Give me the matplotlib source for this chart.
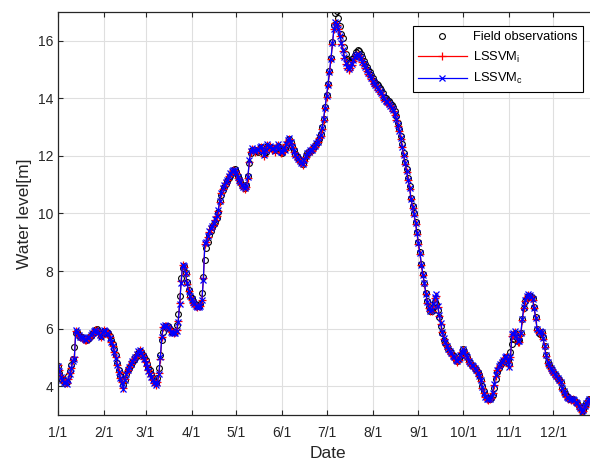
import numpy as np
import matplotlib
matplotlib.use("Agg")
import matplotlib.pyplot as plt

plt.rcParams['font.family'] = ['Liberation Sans', 'DejaVu Sans']

# daily water level [m], day 0 = 1/1
observed = [
    4.70, 4.45, 4.30, 4.22, 4.18, 4.12, 4.15, 4.35, 4.52, 4.75,
    4.95, 5.35, 5.85, 5.90, 5.78, 5.72, 5.70, 5.68, 5.65, 5.62,
    5.65, 5.70, 5.75, 5.80, 5.88, 5.95, 5.98, 5.92, 5.85, 5.75,
    5.82, 5.92, 5.92, 5.90, 5.85, 5.75, 5.62, 5.45, 5.28, 5.10,
    4.80, 4.55, 4.35, 4.20, 4.05, 4.20, 4.42, 4.55, 4.65, 4.75,
    4.85, 4.92, 5.00, 5.05, 5.15, 5.22, 5.18, 5.10, 5.00, 4.90,
    4.78, 4.65, 4.55, 4.42, 4.30, 4.18, 4.10, 4.30, 4.62, 5.10,
    5.60, 5.90, 6.10, 6.10, 6.08, 6.02, 5.95, 5.90, 5.88, 5.90,
    6.12, 6.52, 7.15, 7.75, 8.12, 8.18, 7.95, 7.62, 7.35, 7.15,
    7.05, 6.95, 6.88, 6.82, 6.80, 6.80, 6.85, 7.25, 7.80, 8.40,
    8.80, 9.00, 9.25, 9.40, 9.52, 9.62, 9.72, 9.85, 10.05, 10.45,
    10.65, 10.80, 10.92, 11.02, 11.12, 11.22, 11.32, 11.40, 11.50, 11.55,
    11.45, 11.30, 11.20, 11.10, 11.00, 10.95, 10.90, 11.00, 11.30, 11.75,
    12.10, 12.20, 12.22, 12.20, 12.18, 12.15, 12.25, 12.30, 12.20, 12.05,
    12.15, 12.35, 12.32, 12.30, 12.28, 12.25, 12.20, 12.28, 12.35, 12.30,
    12.15, 12.10, 12.20, 12.25, 12.35, 12.50, 12.58, 12.50, 12.35, 12.20,
    12.05, 12.00, 11.92, 11.85, 11.78, 11.72, 11.85, 12.00, 12.10, 12.15,
    12.18, 12.20, 12.28, 12.35, 12.40, 12.50, 12.60, 12.75, 13.00, 13.30,
    13.70, 14.10, 14.50, 14.95, 15.40, 15.95, 16.55, 16.95, 17.05, 16.80,
    16.50, 16.25, 16.08, 15.80, 15.55, 15.35, 15.30, 15.25, 15.35, 15.40,
    15.50, 15.60, 15.68, 15.65, 15.55, 15.45, 15.30, 15.20, 15.10, 14.98,
    14.90, 14.82, 14.72, 14.62, 14.55, 14.50, 14.45, 14.35, 14.28, 14.18,
    14.05, 14.00, 13.95, 13.90, 13.85, 13.78, 13.70, 13.55, 13.38, 13.15,
    12.95, 12.70, 12.40, 12.10, 11.80, 11.55, 11.25, 10.95, 10.55, 10.25,
    10.00, 9.70, 9.35, 9.00, 8.65, 8.25, 7.90, 7.60, 7.25, 6.95,
    6.75, 6.62, 6.60, 6.75, 6.92, 6.85, 6.65, 6.40, 6.10, 5.85,
    5.62, 5.50, 5.40, 5.30, 5.22, 5.15, 5.08, 5.00, 4.92, 4.88,
    4.95, 5.05, 5.15, 5.28, 5.20, 5.08, 5.00, 4.88, 4.80, 4.75,
    4.70, 4.65, 4.58, 4.48, 4.38, 4.22, 4.00, 3.82, 3.68, 3.60,
    3.56, 3.55, 3.58, 3.68, 3.95, 4.25, 4.50, 4.65, 4.72, 4.80,
    4.88, 4.95, 5.00, 4.90, 4.78, 5.20, 5.45, 5.65, 5.85, 5.70,
    5.58, 5.60, 5.85, 6.35, 6.72, 6.95, 7.05, 7.12, 7.15, 7.10,
    7.05, 6.75, 6.40, 6.00, 5.85, 5.82, 5.88, 5.72, 5.40, 5.10,
    4.85, 4.72, 4.62, 4.55, 4.48, 4.42, 4.35, 4.30, 4.22, 4.15,
    3.95, 3.85, 3.72, 3.65, 3.58, 3.55, 3.55, 3.55, 3.52, 3.45,
    3.40, 3.32, 3.25, 3.15, 3.18, 3.30, 3.40, 3.50, 3.55, 3.52,
    3.50, 3.55, 3.60, 3.62, 3.60,
]

lssvm_i = [
    4.72, 4.55, 4.35, 4.25, 4.18, 4.12, 4.10, 4.25, 4.45, 4.65,
    4.90, 5.00, 5.92, 5.85, 5.75, 5.70, 5.68, 5.65, 5.62, 5.60,
    5.65, 5.70, 5.75, 5.82, 5.90, 5.95, 5.95, 5.88, 5.80, 5.72,
    5.85, 5.95, 5.90, 5.88, 5.82, 5.70, 5.55, 5.40, 5.20, 5.00,
    4.75, 4.50, 4.30, 4.15, 3.95, 4.25, 4.45, 4.58, 4.68, 4.78,
    4.88, 4.95, 5.02, 5.10, 5.20, 5.25, 5.15, 5.05, 4.95, 4.85,
    4.70, 4.55, 4.45, 4.35, 4.22, 4.12, 4.05, 4.15, 4.45, 4.95,
    5.70, 6.05, 6.10, 6.08, 6.05, 6.00, 5.92, 5.88, 5.85, 5.88,
    5.95, 6.25, 6.90, 7.65, 8.20, 8.15, 7.90, 7.55, 7.30, 7.10,
    7.00, 6.90, 6.82, 6.78, 6.75, 6.78, 6.80, 7.00, 7.75, 8.95,
    9.00, 9.20, 9.35, 9.45, 9.55, 9.65, 9.78, 9.90, 10.10, 10.40,
    10.70, 10.85, 10.95, 11.05, 11.15, 11.30, 11.38, 11.45, 11.50, 11.48,
    11.40, 11.25, 11.15, 11.05, 10.98, 10.90, 10.85, 10.92, 11.25, 11.80,
    12.15, 12.25, 12.20, 12.15, 12.22, 12.18, 12.28, 12.32, 12.15, 12.00,
    12.20, 12.38, 12.28, 12.35, 12.22, 12.25, 12.15, 12.30, 12.38, 12.25,
    12.10, 12.12, 12.25, 12.20, 12.40, 12.52, 12.60, 12.45, 12.30, 12.15,
    12.00, 11.95, 11.88, 11.80, 11.75, 11.70, 11.82, 11.98, 12.08, 12.12,
    12.20, 12.18, 12.30, 12.32, 12.42, 12.48, 12.62, 12.70, 12.95, 13.25,
    13.65, 14.05, 14.45, 14.90, 15.35, 15.90, 16.40, 16.62, 16.55, 16.40,
    16.15, 15.90, 15.65, 15.40, 15.20, 15.05, 15.00, 15.05, 15.15, 15.30,
    15.40, 15.50, 15.52, 15.45, 15.38, 15.25, 15.15, 15.05, 14.95, 14.85,
    14.78, 14.68, 14.60, 14.50, 14.42, 14.38, 14.30, 14.22, 14.15, 14.05,
    13.95, 13.90, 13.85, 13.78, 13.72, 13.65, 13.55, 13.42, 13.25, 13.05,
    12.85, 12.60, 12.30, 12.00, 11.72, 11.45, 11.15, 10.85, 10.50, 10.20,
    9.95, 9.65, 9.30, 8.95, 8.60, 8.20, 7.85, 7.55, 7.20, 6.90,
    6.70, 6.60, 6.62, 6.80, 7.05, 7.15, 6.75, 6.45, 6.15, 5.88,
    5.65, 5.50, 5.38, 5.28, 5.20, 5.12, 5.05, 4.98, 4.90, 4.85,
    4.92, 5.05, 5.18, 5.25, 5.18, 5.05, 4.98, 4.85, 4.78, 4.72,
    4.68, 4.62, 4.55, 4.45, 4.35, 4.18, 3.95, 3.75, 3.62, 3.55,
    3.52, 3.55, 3.60, 3.75, 4.05, 4.35, 4.55, 4.68, 4.75, 4.82,
    4.90, 4.98, 5.02, 4.85, 4.70, 5.00, 5.75, 5.80, 5.90, 5.72,
    5.55, 5.55, 5.80, 6.30, 6.70, 6.95, 7.10, 7.18, 7.15, 7.08,
    7.00, 6.70, 6.35, 5.95, 5.85, 5.90, 5.85, 5.65, 5.35, 5.05,
    4.82, 4.70, 4.60, 4.52, 4.45, 4.40, 4.32, 4.28, 4.20, 4.12,
    3.92, 3.80, 3.70, 3.62, 3.55, 3.55, 3.52, 3.55, 3.50, 3.42,
    3.38, 3.30, 3.22, 3.10, 3.15, 3.28, 3.38, 3.48, 3.52, 3.50,
    3.48, 3.52, 3.58, 3.60, 3.58,
]

lssvm_c = [
    4.70, 4.52, 4.32, 4.22, 4.15, 4.10, 4.08, 4.22, 4.42, 4.62,
    4.88, 4.95, 5.95, 5.88, 5.78, 5.72, 5.70, 5.66, 5.63, 5.62,
    5.66, 5.72, 5.78, 5.85, 5.92, 5.96, 5.93, 5.86, 5.78, 5.70,
    5.88, 5.96, 5.92, 5.86, 5.80, 5.68, 5.52, 5.38, 5.18, 4.98,
    4.72, 4.48, 4.28, 4.12, 3.92, 4.22, 4.42, 4.55, 4.66, 4.76,
    4.86, 4.94, 5.03, 5.12, 5.22, 5.26, 5.16, 5.06, 4.94, 4.82,
    4.68, 4.52, 4.42, 4.32, 4.20, 4.10, 4.05, 4.12, 4.42, 5.00,
    5.72, 6.08, 6.12, 6.10, 6.06, 5.98, 5.90, 5.86, 5.84, 5.86,
    5.92, 6.22, 6.85, 7.60, 8.22, 8.18, 7.92, 7.58, 7.32, 7.12,
    7.02, 6.92, 6.84, 6.80, 6.76, 6.76, 6.78, 6.98, 7.70, 8.98,
    9.02, 9.22, 9.38, 9.48, 9.58, 9.68, 9.80, 9.92, 10.12, 10.42,
    10.72, 10.88, 10.98, 11.08, 11.18, 11.32, 11.40, 11.46, 11.52, 11.50,
    11.42, 11.28, 11.18, 11.08, 11.00, 10.92, 10.88, 10.95, 11.28, 11.85,
    12.18, 12.28, 12.22, 12.18, 12.25, 12.20, 12.30, 12.35, 12.18, 12.02,
    12.22, 12.40, 12.30, 12.36, 12.24, 12.28, 12.18, 12.32, 12.40, 12.28,
    12.12, 12.15, 12.28, 12.22, 12.42, 12.55, 12.62, 12.48, 12.32, 12.18,
    12.02, 11.96, 11.90, 11.82, 11.76, 11.72, 11.85, 12.00, 12.10, 12.15,
    12.22, 12.20, 12.32, 12.35, 12.45, 12.50, 12.65, 12.72, 12.98, 13.28,
    13.68, 14.08, 14.48, 14.92, 15.38, 15.92, 16.42, 16.65, 16.58, 16.42,
    16.18, 15.92, 15.68, 15.42, 15.22, 15.08, 15.02, 15.08, 15.18, 15.32,
    15.42, 15.52, 15.55, 15.48, 15.40, 15.28, 15.18, 15.08, 14.98, 14.88,
    14.80, 14.70, 14.62, 14.52, 14.45, 14.40, 14.32, 14.25, 14.18, 14.08,
    13.98, 13.92, 13.88, 13.80, 13.75, 13.68, 13.58, 13.45, 13.28, 13.08,
    12.88, 12.62, 12.32, 12.02, 11.75, 11.48, 11.18, 10.88, 10.52, 10.22,
    9.98, 9.68, 9.32, 8.98, 8.62, 8.22, 7.88, 7.58, 7.22, 6.92,
    6.72, 6.62, 6.65, 6.85, 7.10, 7.20, 6.78, 6.48, 6.18, 5.90,
    5.68, 5.52, 5.40, 5.30, 5.22, 5.14, 5.06, 5.00, 4.92, 4.86,
    4.94, 5.08, 5.20, 5.28, 5.20, 5.08, 5.00, 4.88, 4.80, 4.74,
    4.70, 4.64, 4.56, 4.46, 4.36, 4.20, 3.98, 3.78, 3.64, 3.56,
    3.54, 3.56, 3.62, 3.78, 4.08, 4.38, 4.58, 4.70, 4.78, 4.85,
    4.92, 5.00, 5.05, 4.88, 4.68, 5.02, 5.80, 5.85, 5.92, 5.75,
    5.58, 5.58, 5.85, 6.35, 6.75, 7.00, 7.15, 7.20, 7.18, 7.10,
    7.02, 6.72, 6.38, 5.98, 5.88, 5.92, 5.88, 5.68, 5.38, 5.08,
    4.85, 4.72, 4.62, 4.55, 4.48, 4.42, 4.35, 4.30, 4.22, 4.15,
    3.95, 3.82, 3.72, 3.64, 3.58, 3.56, 3.54, 3.56, 3.52, 3.44,
    3.40, 3.32, 3.24, 3.12, 3.18, 3.30, 3.40, 3.50, 3.55, 3.52,
    3.50, 3.55, 3.60, 3.62, 3.60,
]

month_starts = [0, 31, 59, 90, 120, 151, 181, 212, 243, 273, 304, 334]
month_labels = ["1/1", "2/1", "3/1", "4/1", "5/1", "6/1",
                "7/1", "8/1", "9/1", "10/1", "11/1", "12/1"]

days = np.arange(len(observed))

fig = plt.figure(figsize=(5.9, 4.61), dpi=100)
# right edge of the axes runs past the figure, as in the original crop
ax = fig.add_axes([58 / 590, 46 / 461, 540 / 590, 403 / 461])

ax.plot(days, observed, linestyle="none", marker="o", markersize=4.2,
        markerfacecolor="none", markeredgecolor="black", markeredgewidth=0.8,
        label="Field observations")
ax.plot(days, lssvm_i, color="#ff0000", linewidth=0.9, marker="+",
        markersize=5.5, markeredgewidth=0.9, label=r"LSSVM$_\mathregular{i}$")
ax.plot(days, lssvm_c, color="#0000ff", linewidth=0.9, marker="x",
        markersize=4.0, markeredgewidth=0.9, label=r"LSSVM$_\mathregular{c}$")

ax.set_xlim(0, 364)
ax.set_ylim(3, 17)
ax.set_xticks(month_starts)
ax.set_xticklabels(month_labels)
ax.set_yticks(np.arange(4, 17, 2))

ax.grid(True, color="#dfdfdf", linewidth=0.8)
ax.set_axisbelow(True)
for s in ax.spines.values():
    s.set_color("#262626")
    s.set_linewidth(0.9)
ax.tick_params(axis="both", direction="in", top=True, right=True,
               length=3.5, width=0.8, colors="#262626", labelsize=10)
ax.tick_params(axis="x", pad=8)

ax.set_xlabel("Date", fontsize=12.5, color="#262626", labelpad=4)
ax.set_ylabel("Water level[m]", fontsize=12.5, color="#262626")

leg = ax.legend(loc="upper right", bbox_to_anchor=(0.972, 0.965),
                borderaxespad=0, fancybox=False, framealpha=1,
                edgecolor="black", fontsize=9.3, handlelength=3.8,
                labelspacing=0.5, borderpad=0.4, handletextpad=0.5)
leg.get_frame().set_linewidth(0.8)

fig.savefig("out.png", dpi=100)
